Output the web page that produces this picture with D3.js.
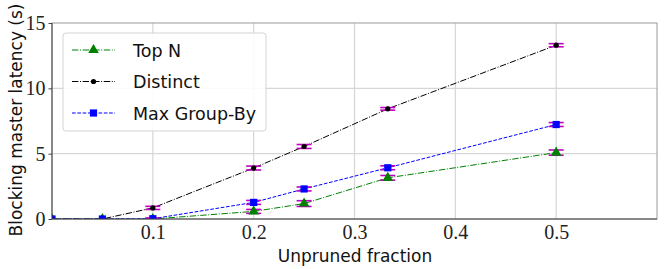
<!DOCTYPE html>
<html>
<head>
<meta charset="utf-8">
<script src="https://cdn.jsdelivr.net/npm/d3@7"></script>
<style>
  body { margin: 0; background: #fff; }
  svg { display: block; }
</style>
</head>
<body>
<svg id="chart" width="664" height="269"></svg>
<script>
// unpruned fraction (x) and latency in seconds per query type
const fractions = [0, 0.05, 0.1, 0.2, 0.25, 0.333, 0.5];
const topN = [0, 0, 0, 0.58, 1.18, 3.15, 5.08];
const topNErr = [0.05, 0.05, 0.05, 0.15, 0.22, 0.18, 0.2];
const distinct = [0, 0, 0.85, 3.9, 5.55, 8.43, 13.3];
const distinctErr = [0.05, 0.05, 0.12, 0.15, 0.15, 0.1, 0.12];
const maxGroupBy = [0, 0, 0.02, 1.27, 2.3, 3.92, 7.23];
const maxGroupByErr = [0.05, 0.05, 0.05, 0.15, 0.15, 0.15, 0.15];
const xTicks = [0.1, 0.2, 0.3, 0.4, 0.5];
const yTicks = [0, 5, 10, 15];

const series = [
  { name: "Top N", values: topN, err: topNErr, color: "#008000", dash: "6.4,1.6,1,1.6", marker: "triangle" },
  { name: "Distinct", values: distinct, err: distinctErr, color: "#000000", dash: "6.4,1.6,1,1.6", marker: "circle" },
  { name: "Max Group-By", values: maxGroupBy, err: maxGroupByErr, color: "#0000ff", dash: "3.7,1.6", marker: "square" }
];

const margin = { top: 23, right: 7, bottom: 50, left: 52 };
const width = 664, height = 269;
const svg = d3.select("#chart");
const g = svg.append("g").attr("transform", `translate(${margin.left},${margin.top})`);
const innerW = width - margin.left - margin.right;
const innerH = height - margin.top - margin.bottom;

const x = d3.scaleLinear().domain([0, 0.6]).range([0, innerW]);
const y = d3.scaleLinear().domain([0, 15]).range([innerH, 0]);

svg.append("defs").append("clipPath").attr("id", "plot-clip")
  .append("rect").attr("width", innerW).attr("height", innerH);

// grid
g.append("g").selectAll("line").data(xTicks).enter().append("line")
  .attr("x1", d => x(d)).attr("x2", d => x(d))
  .attr("y1", 0).attr("y2", innerH)
  .attr("stroke", "#d6d6d6").attr("stroke-width", 1.2);
g.append("g").selectAll("line").data(yTicks.filter(d => d > 0 && d < 15)).enter().append("line")
  .attr("x1", 0).attr("x2", innerW)
  .attr("y1", d => y(d)).attr("y2", d => y(d))
  .attr("stroke", "#d6d6d6").attr("stroke-width", 1.2);

// frame
g.append("rect").attr("width", innerW).attr("height", innerH)
  .attr("fill", "none").attr("stroke", "#9a9a9a").attr("stroke-width", 1);

// tick labels
const xAxis = d3.axisBottom(x).tickValues(xTicks).tickSize(0).tickPadding(6).tickFormat(d3.format(".1f"));
g.append("g").attr("transform", `translate(0,${innerH})`).call(xAxis)
  .call(a => a.select(".domain").remove())
  .selectAll("text").attr("font-family", "'Liberation Serif', serif").attr("font-size", 20).attr("fill", "#222");
const yAxis = d3.axisLeft(y).tickValues(yTicks).tickSize(3.5).tickPadding(3);
g.append("g").call(yAxis)
  .call(a => a.select(".domain").remove())
  .call(a => a.selectAll("line").attr("stroke", "#444"))
  .selectAll("text").attr("font-family", "'Liberation Serif', serif").attr("font-size", 20).attr("fill", "#222");

// axis titles
svg.append("text").text("Unpruned fraction")
  .attr("x", 355).attr("y", 262)
  .attr("text-anchor", "middle").attr("font-family", "'DejaVu Sans', sans-serif")
  .attr("font-size", 17).attr("fill", "#111");
svg.append("text").text("Blocking master latency (s)")
  .attr("transform", `translate(22,120) rotate(-90)`)
  .attr("text-anchor", "middle").attr("font-family", "'DejaVu Sans', sans-serif")
  .attr("font-size", 17).attr("fill", "#111");

function drawMarker(sel, type, color) {
  if (type === "triangle") {
    sel.append("path").attr("d", d3.symbol(d3.symbolTriangle, 48)()).attr("fill", color);
  } else if (type === "circle") {
    sel.append("circle").attr("r", 2.6).attr("fill", color);
  } else {
    sel.append("rect").attr("x", -3.6).attr("y", -3.6).attr("width", 7.2).attr("height", 7.2).attr("fill", color);
  }
}

const plot = g.append("g").attr("clip-path", "url(#plot-clip)");
const line = d3.line().x(d => x(d[0])).y(d => y(d[1]));
series.forEach(s => {
  const pts = fractions.map((f, i) => [f, s.values[i], s.err[i]]);
  const sg = plot.append("g");
  sg.append("path").attr("d", line(pts))
    .attr("fill", "none").attr("stroke", s.color).attr("stroke-width", 1)
    .attr("stroke-dasharray", s.dash);
  sg.selectAll(".err").data(pts.filter(p => p[0] >= 0.1)).enter().append("g")
    .attr("class", "err")
    .each(function(p) {
      const e = d3.select(this);
      const cx = x(p[0]);
      e.append("line").attr("x1", cx).attr("x2", cx).attr("y1", y(p[1] - p[2])).attr("y2", y(p[1] + p[2]))
        .attr("stroke", "#bf00bf").attr("stroke-width", 1.5);
      [p[1] - p[2], p[1] + p[2]].forEach(v => {
        e.append("line").attr("x1", cx - 7.5).attr("x2", cx + 7.5).attr("y1", y(v)).attr("y2", y(v))
          .attr("stroke", "#bf00bf").attr("stroke-width", 1.6);
      });
    });
  sg.selectAll(".mk").data(pts).enter().append("g")
    .attr("class", "mk")
    .attr("transform", p => `translate(${x(p[0])},${y(p[1])})`)
    .each(function() { drawMarker(d3.select(this), s.marker, s.color); });
});

// left and bottom spines drawn over the data
g.append("line").attr("x1", 0).attr("x2", 0).attr("y1", 0).attr("y2", innerH)
  .attr("stroke", "#444").attr("stroke-width", 1);
g.append("line").attr("x1", 0).attr("x2", innerW).attr("y1", innerH).attr("y2", innerH)
  .attr("stroke", "#444").attr("stroke-width", 1);

// legend
const legend = g.append("g").attr("transform", "translate(11,10)");
legend.append("rect").attr("width", 203).attr("height", 98).attr("rx", 3)
  .attr("fill", "#fff").attr("fill-opacity", 0.9).attr("stroke", "#d4d4d4");
series.forEach((s, i) => {
  const row = legend.append("g").attr("transform", `translate(0,${17 + i * 31.5})`);
  row.append("line").attr("x1", 9).attr("x2", 52).attr("y1", 0).attr("y2", 0)
    .attr("stroke", s.color).attr("stroke-width", 1).attr("stroke-dasharray", s.dash);
  const m = row.append("g").attr("transform", "translate(30.5,0)");
  drawMarker(m, s.marker, s.color);
  row.append("text").text(s.name).attr("x", 70).attr("y", 6.5)
    .attr("font-family", "'DejaVu Sans', sans-serif").attr("font-size", 17.5).attr("fill", "#111");
});
</script>
</body>
</html>
